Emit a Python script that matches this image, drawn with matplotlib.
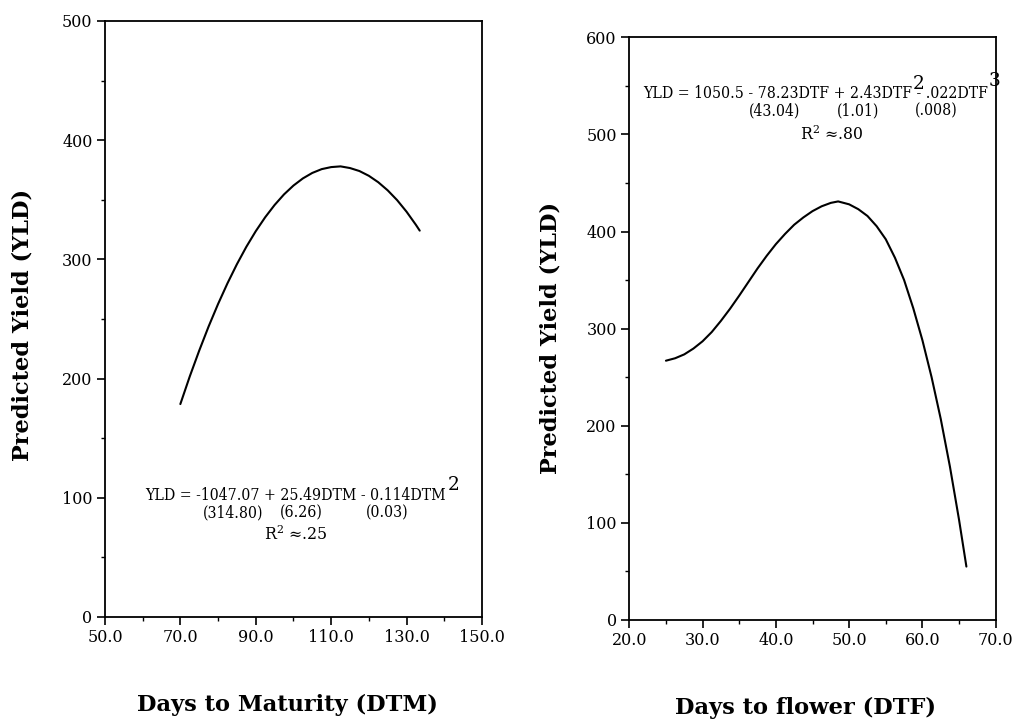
import matplotlib
matplotlib.use("Agg")
import matplotlib.pyplot as plt
from matplotlib.ticker import MultipleLocator, FormatStrFormatter

plt.rcParams["font.family"] = ["DejaVu Serif"]
plt.rcParams["mathtext.default"] = "regular"

# Predicted yield against days to maturity
dtm = [70, 72.5, 75, 77.5, 80, 82.5, 85, 87.5, 90, 92.5, 95, 97.5, 100, 102.5,
       105, 107.5, 110, 112.5, 115, 117.5, 120, 122.5, 125, 127.5, 130, 132.5,
       133.5]
yld_dtm = [178.6, 201.8, 223.4, 243.7, 262.5, 279.9, 295.9, 310.5, 323.6,
           335.3, 345.6, 354.5, 361.9, 367.9, 372.5, 375.7, 377.4, 378.0,
           376.6, 374.1, 370.1, 364.7, 357.9, 349.7, 340.0, 328.9, 324.1]

# Predicted yield against days to flower
dtf = [25, 26.25, 27.5, 28.75, 30, 31.25, 32.5, 33.75, 35, 36.25, 37.5, 38.75,
       40, 41.25, 42.5, 43.75, 45, 46.25, 47.5, 48.5, 50, 51.25, 52.5, 53.75,
       55, 56.25, 57.5, 58.75, 60, 61.25, 62.5, 63.75, 65, 66]
yld_dtf = [267, 269.5, 273.5, 279.5, 287, 296.5, 308, 320.5, 334, 348, 362, 375,
           387, 397.5, 407, 414.5, 421, 426, 429.5, 431, 428, 423, 416, 405.5,
           392, 373, 350, 321, 288, 250, 207, 158, 103, 55]

x_ticks_dtm = [50.0, 70.0, 90.0, 110.0, 130.0, 150.0]
y_ticks_dtm = [0, 100, 200, 300, 400, 500]
x_ticks_dtf = [20.0, 30.0, 40.0, 50.0, 60.0, 70.0]
y_ticks_dtf = [0, 100, 200, 300, 400, 500, 600]

fig = plt.figure(figsize=(10.15, 7.2), dpi=100)
ax1 = fig.add_axes([0.1034, 0.1431, 0.3714, 0.8278])
ax2 = fig.add_axes([0.6200, 0.1389, 0.3610, 0.8093])

TICK_FS = 11.5
LABEL_FS = 16.2
EQ_FS = 11.3


def style_axes(ax, xticks, yticks, xminor, yminor):
    ax.set_xlim(xticks[0], xticks[-1])
    ax.set_ylim(yticks[0], yticks[-1])
    ax.set_xticks(xticks)
    ax.set_yticks(yticks)
    ax.xaxis.set_minor_locator(MultipleLocator(xminor))
    ax.yaxis.set_minor_locator(MultipleLocator(yminor))
    ax.xaxis.set_major_formatter(FormatStrFormatter("%.1f"))
    ax.yaxis.set_major_formatter(FormatStrFormatter("%d"))
    ax.tick_params(which="major", direction="out", length=6, width=1.2,
                   labelsize=TICK_FS, pad=3, color="black")
    ax.tick_params(which="minor", direction="out", length=3, width=1.0,
                   color="black")
    for sp in ax.spines.values():
        sp.set_linewidth(1.3)
        sp.set_color("black")


ax1.plot(dtm, yld_dtm, color="black", lw=1.5, solid_capstyle="round",
         solid_joinstyle="round")
style_axes(ax1, x_ticks_dtm, y_ticks_dtm, 10, 50)

ax2.plot(dtf, yld_dtf, color="black", lw=1.5, solid_capstyle="round",
         solid_joinstyle="round")
style_axes(ax2, x_ticks_dtf, y_ticks_dtf, 5, 50)

# Axis titles
fig.text(0.2828, 0.0208, "Days to Maturity (DTM)", ha="center", va="center",
         fontsize=LABEL_FS, fontweight="bold")
fig.text(0.7938, 0.0167, "Days to flower (DTF)", ha="center", va="center",
         fontsize=LABEL_FS, fontweight="bold")
fig.text(0.0217, 0.5486, "Predicted Yield (YLD)", ha="center", va="center",
         rotation=90, fontsize=LABEL_FS, fontweight="bold")
fig.text(0.5419, 0.53125, "Predicted Yield (YLD)", ha="center", va="center",
         rotation=90, fontsize=LABEL_FS, fontweight="bold")

# Fitted equation, DTM panel
eq1 = ax1.text(60.7, 102.3, "YLD = -1047.07 + 25.49DTM - 0.114DTM",
               ha="left", va="center", fontsize=EQ_FS, fontstretch="condensed")
ax1.annotate("2", xy=(1, 0.55), xycoords=eq1, xytext=(1, 0),
             textcoords="offset points", ha="left", va="bottom",
             fontsize=EQ_FS + 2)
for xs, s in [(84.1, "(314.80)"), (102.2, "(6.26)"), (124.9, "(0.03)")]:
    ax1.text(xs, 87.5, s, ha="center", va="center", fontsize=EQ_FS,
             fontstretch="condensed")
ax1.text(100.7, 68.8, "R$^{2}$ ≈.25", ha="center", va="center",
         fontsize=EQ_FS)

# Fitted equation, DTF panel
eq2a = ax2.text(21.9, 541.9, "YLD = 1050.5 - 78.23DTF + 2.43DTF",
                ha="left", va="center", fontsize=EQ_FS, fontstretch="condensed")
ax2.annotate("2", xy=(1, 0.55), xycoords=eq2a, xytext=(0.5, 0),
             textcoords="offset points", ha="left", va="bottom",
             fontsize=EQ_FS + 2)
eq2b = ax2.annotate(" - .022DTF", xy=(1, 0), xycoords=eq2a,
                    ha="left", va="bottom", fontsize=EQ_FS,
                    fontstretch="condensed")
ax2.annotate("3", xy=(1, 0.7), xycoords=eq2b, xytext=(0.5, 0),
             textcoords="offset points", ha="left", va="bottom",
             fontsize=EQ_FS + 2)
for xs, s in [(39.8, "(43.04)"), (51.2, "(1.01)"), (61.9, "(.008)")]:
    ax2.text(xs, 524.6, s, ha="center", va="center", fontsize=EQ_FS,
             fontstretch="condensed")
ax2.text(47.6, 499.8, "R$^{2}$ ≈.80", ha="center", va="center",
         fontsize=EQ_FS)

fig.savefig("out.png", dpi=100)
